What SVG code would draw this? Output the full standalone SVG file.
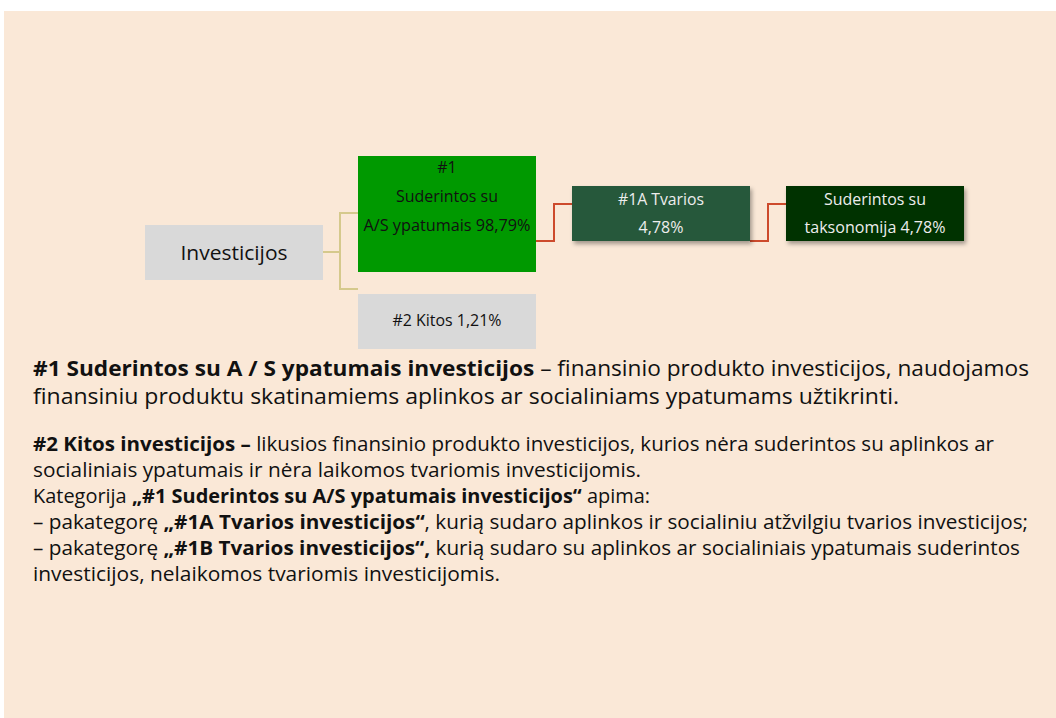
<svg xmlns="http://www.w3.org/2000/svg" width="1056" height="718" viewBox="0 0 1056 718">
<defs>
<filter id="shadow" x="-10%" y="-20%" width="130%" height="160%">
<feDropShadow dx="2" dy="3" stdDeviation="2" flood-color="#000" flood-opacity="0.35"/>
</filter>
<style>
.t{font-family:"Open Sans","Liberation Sans",sans-serif;}
.box{font-family:"Open Sans","Liberation Sans",sans-serif;font-size:16px;text-anchor:middle;}
.dark{fill:#111;}
.light{fill:#EDEDED;}
.p1{font-size:22px;fill:#111;}
.p2{font-size:20px;fill:#111;}
.b{font-weight:bold;}
.tan{fill:none;stroke:#D5C98C;stroke-width:2;}
.red{fill:none;stroke:#CD4A2C;stroke-width:2;}
</style>
</defs>
<rect x="4" y="11" width="1052" height="707" fill="#FAE8D7"/>
<g id="connectors">
<path class="tan" d="M323,252 H340 V213 H358 M340,252 V289 H358"/>
<path class="red" d="M536,241 H554 V204 H572"/>
<path class="red" d="M750,241 H768 V204 H786"/>
</g>
<g id="node-investicijos">
<rect x="145" y="225" width="178" height="55" fill="#D9D9D9"/>
<text class="box dark" x="234" y="259.5" style="font-size:20.5px" textLength="107" lengthAdjust="spacingAndGlyphs">Investicijos</text>
</g>
<g id="node-1">
<rect x="358" y="156" width="178" height="116" fill="#009900"/>
<text class="box dark" x="447" y="173">#1</text>
<text class="box dark" x="447" y="202" textLength="102" lengthAdjust="spacingAndGlyphs">Suderintos su</text>
<text class="box dark" x="447" y="231" textLength="167" lengthAdjust="spacingAndGlyphs">A/S ypatumais 98,79%</text>
</g>
<g id="node-2">
<rect x="358" y="294" width="178" height="55" fill="#D9D9D9"/>
<text class="box dark" x="447" y="326" textLength="109" lengthAdjust="spacingAndGlyphs">#2 Kitos 1,21%</text>
</g>
<g id="node-1a">
<rect x="572" y="186" width="178" height="55" fill="#27593B" filter="url(#shadow)"/>
<text class="box light" x="661" y="205" textLength="86" lengthAdjust="spacingAndGlyphs">#1A Tvarios</text>
<text class="box light" x="661" y="233">4,78%</text>
</g>
<g id="node-tax">
<rect x="786" y="186" width="178" height="55" fill="#003300" filter="url(#shadow)"/>
<text class="box light" x="875" y="205" textLength="102" lengthAdjust="spacingAndGlyphs">Suderintos su</text>
<text class="box light" x="875" y="233" textLength="141" lengthAdjust="spacingAndGlyphs">taksonomija 4,78%</text>
</g>
<g id="text">
<text class="t p1" x="33" y="376" textLength="996" lengthAdjust="spacingAndGlyphs"><tspan class="b">#1 Suderintos su A / S ypatumais investicijos</tspan> – finansinio produkto investicijos, naudojamos</text>
<text class="t p1" x="33" y="404" textLength="866" lengthAdjust="spacingAndGlyphs">finansiniu produktu skatinamiems aplinkos ar socialiniams ypatumams užtikrinti.</text>
<text class="t p2" x="33" y="451" textLength="961" lengthAdjust="spacingAndGlyphs"><tspan class="b">#2 Kitos investicijos –</tspan> likusios finansinio produkto investicijos, kurios nėra suderintos su aplinkos ar</text>
<text class="t p2" x="33" y="477" textLength="608" lengthAdjust="spacingAndGlyphs">socialiniais ypatumais ir nėra laikomos tvariomis investicijomis.</text>
<text class="t p2" x="33" y="503" textLength="617" lengthAdjust="spacingAndGlyphs">Kategorija <tspan class="b">„#1 Suderintos su A/S ypatumais investicijos“</tspan> apima:</text>
<text class="t p2" x="33" y="529" textLength="995" lengthAdjust="spacingAndGlyphs">– pakategorę <tspan class="b">„#1A Tvarios investicijos“</tspan>, kurią sudaro aplinkos ir socialiniu atžvilgiu tvarios investicijos;</text>
<text class="t p2" x="33" y="555" textLength="987" lengthAdjust="spacingAndGlyphs">– pakategorę <tspan class="b">„#1B Tvarios investicijos“,</tspan> kurią sudaro su aplinkos ar socialiniais ypatumais suderintos</text>
<text class="t p2" x="33" y="581" textLength="467" lengthAdjust="spacingAndGlyphs">investicijos, nelaikomos tvariomis investicijomis.</text>
</g>
</svg>
